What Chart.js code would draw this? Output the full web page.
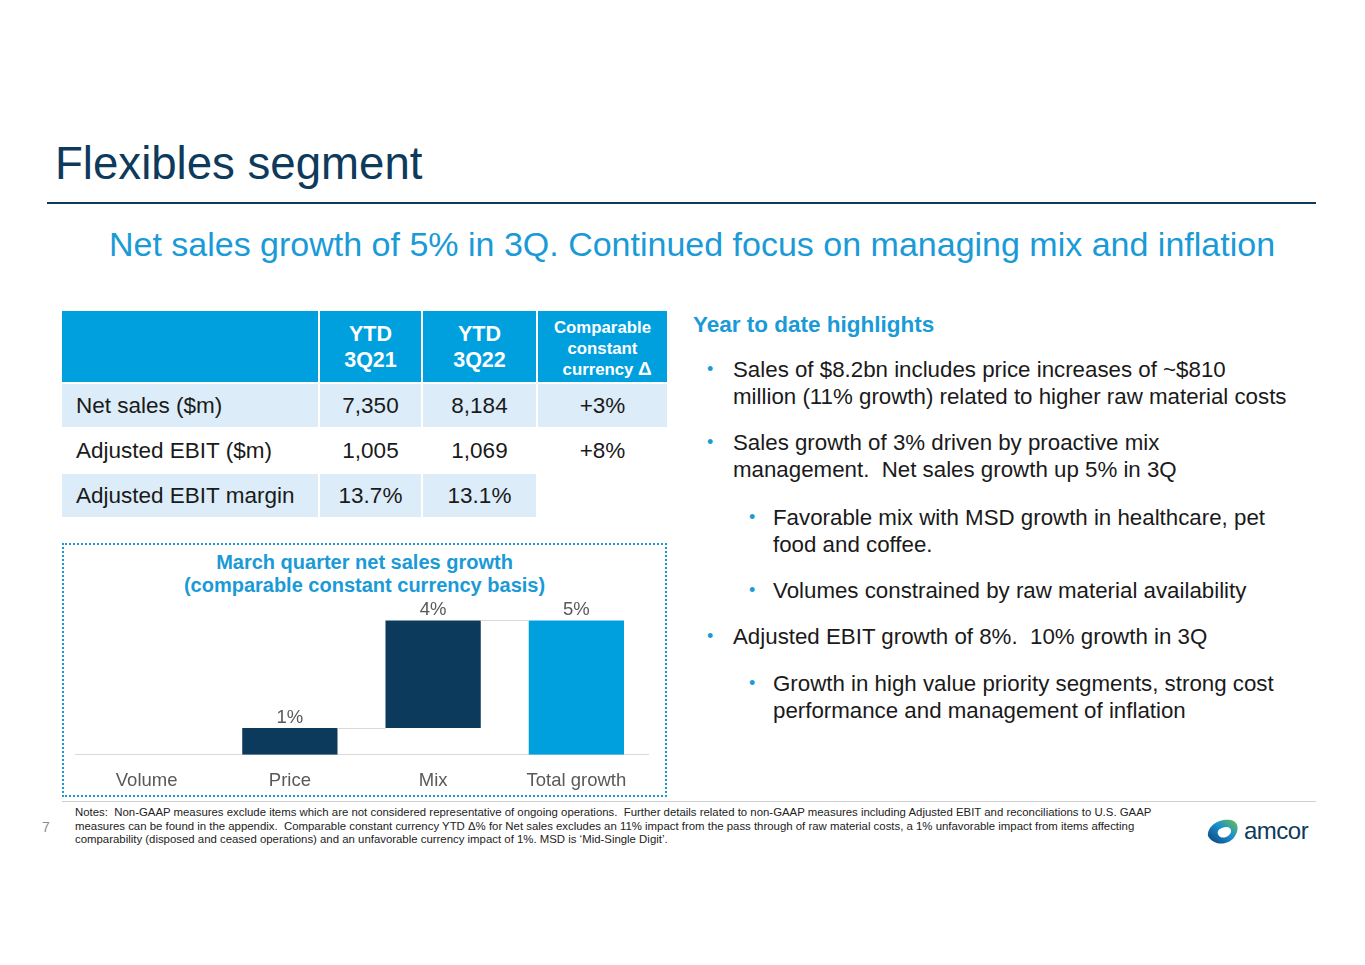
<!DOCTYPE html>
<html lang="en">
<head>
  <meta charset="UTF-8" />
  <title>Flexibles segment</title>
  <script src="https://cdn.jsdelivr.net/npm/chart.js"></script>
  <style>
    html, body { margin: 0; padding: 0; }
    body { width: 1365px; height: 965px; position: relative; background: #fff;
           font-family: Arial, "Liberation Sans", sans-serif; color: #1a1a1a; overflow: hidden; }
    .abs { position: absolute; }
    .title { left: 55px; top: 138px; font-size: 45.6px; color: #0e3a5c; white-space: nowrap; }
    .rule { left: 47px; top: 202px; width: 1269px; height: 2px; background: #0e3a5c; }
    .subtitle { left: 0; width: 1384px; top: 225px; text-align: center; font-size: 34px; color: #1a9ad6; white-space: nowrap; }

    table { position: absolute; left: 62px; top: 311px; border-collapse: separate; border-spacing: 2px 2px; margin: -2px; }
    td { font-size: 22.5px; padding: 0; height: 43px; text-align: center; color: #1a1a1a; }
    td.lbl { text-align: left; padding-left: 14px; }
    tr.head td { background: #00a0df; color: #fff; font-weight: bold; font-size: 21.5px; height: 71px; line-height: 26px; }
    tr.head td.cc { font-size: 16.8px; line-height: 20.5px; padding-top: 6px; height: 65px; }
    tr.blue td.fill { background: #dcedf9; }

    .hl { left: 693px; top: 312px; font-size: 22.5px; font-weight: bold; color: #1a9ad6; }
    .b { font-size: 22.3px; line-height: 27px; white-space: nowrap; }
    .b .dot { position: absolute; color: #1a9ad6; font-size: 18px; }
    .lv1 { left: 733px; }
    .lv1 .dot { left: -26px; }
    .lv2 { left: 773px; }
    .lv2 .dot { left: -24px; }

    .box { left: 62px; top: 543px; width: 601px; height: 250px; border: 2px dotted #1a9ad6; }
    .ctitle { left: 62px; width: 605px; top: 551px; text-align: center; font-size: 20px; font-weight: bold; color: #1a9ad6; line-height: 23px; }
    #wrap { left: 62px; top: 597px; width: 605px; height: 202px; }

    .foot { left: 62px; top: 801px; width: 1254px; height: 1px; background: #cfcfcf; }
    .pg { left: 42px; top: 819px; font-size: 14px; color: #8c8c8c; }
    .notes { left: 75px; top: 806px; font-size: 11.4px; line-height: 13.5px; color: #222; white-space: nowrap; }
    .logo { left: 1205px; top: 814px; }
  </style>
</head>
<body>
  <div class="abs title">Flexibles segment</div>
  <div class="abs rule"></div>
  <div class="abs subtitle">Net sales growth of 5% in 3Q. Continued focus on managing mix and inflation</div>

  <table>
    <tr class="head">
      <td style="width:256px"></td>
      <td style="width:101px">YTD<br>3Q21</td>
      <td style="width:113px">YTD<br>3Q22</td>
      <td class="cc" style="width:129px">Comparable<br>constant<br>&nbsp;&nbsp;currency <span style="font-size:19px">&Delta;</span></td>
    </tr>
    <tr class="blue">
      <td class="lbl fill">Net sales ($m)</td><td class="fill">7,350</td><td class="fill">8,184</td><td class="fill">+3%</td>
    </tr>
    <tr>
      <td class="lbl">Adjusted EBIT ($m)</td><td>1,005</td><td>1,069</td><td>+8%</td>
    </tr>
    <tr class="blue">
      <td class="lbl fill">Adjusted EBIT margin</td><td class="fill">13.7%</td><td class="fill">13.1%</td><td></td>
    </tr>
  </table>

  <div class="abs hl">Year to date highlights</div>
  <div class="abs b lv1" style="top:356px"><span class="dot">&#8226;</span>Sales of $8.2bn includes price increases of ~$810<br>million (11% growth) related to higher raw material costs</div>
  <div class="abs b lv1" style="top:429px"><span class="dot">&#8226;</span>Sales growth of 3% driven by proactive mix<br>management.&nbsp; Net sales growth up 5% in 3Q</div>
  <div class="abs b lv2" style="top:504px"><span class="dot">&#8226;</span>Favorable mix with MSD growth in healthcare, pet<br>food and coffee.</div>
  <div class="abs b lv2" style="top:577px"><span class="dot">&#8226;</span>Volumes constrained by raw material availability</div>
  <div class="abs b lv1" style="top:623px"><span class="dot">&#8226;</span>Adjusted EBIT growth of 8%.&nbsp; 10% growth in 3Q</div>
  <div class="abs b lv2" style="top:670px"><span class="dot">&#8226;</span>Growth in high value priority segments, strong cost<br>performance and management of inflation</div>

  <div class="abs box"></div>
  <div class="abs ctitle">March quarter net sales growth<br>(comparable constant currency basis)</div>
  <div class="abs" id="wrap"><canvas id="chart"></canvas></div>

  <div class="abs foot"></div>
  <div class="abs pg">7</div>
  <div class="abs notes">Notes:&nbsp; Non-GAAP measures exclude items which are not considered representative of ongoing operations.&nbsp; Further details related to non-GAAP measures including Adjusted EBIT and reconciliations to U.S. GAAP<br>measures can be found in the appendix.&nbsp; Comparable constant currency YTD &Delta;% for Net sales excludes an 11% impact from the pass through of raw material costs, a 1% unfavorable impact from items affecting<br>comparability (disposed and ceased operations) and an unfavorable currency impact of 1%. MSD is &lsquo;Mid-Single Digit&rsquo;.</div>
  <svg class="abs logo" width="110" height="36" viewBox="0 0 110 36">
    <defs>
      <linearGradient id="lg" x1="0" y1="1" x2="1" y2="0">
        <stop offset="0" stop-color="#0b3f73"/>
        <stop offset="0.55" stop-color="#1a8fd0"/>
        <stop offset="1" stop-color="#6cc24a"/>
      </linearGradient>
    </defs>
    <path d="M3 22 C2 12 14 4 26 6 C34 8 34 16 30 22 C26 30 10 34 3 22 Z M13 20 C15 26 24 24 26 18 C27 13 21 12 17 14 C14 15 12 17 13 20 Z" fill="url(#lg)" fill-rule="evenodd"/>
    <text x="39" y="25" font-family="Arial, 'Liberation Sans', sans-serif" font-size="24" fill="#0e3a5c" letter-spacing="-0.5">amcor</text>
  </svg>

  <script>
    const categories = ["Volume", "Price", "Mix", "Total growth"];
    const growthPct = [0, 1, 4, 5];
    const isTotal = [false, false, false, true];

    const navy = "#0b3a5c";
    const cyan = "#00a0df";

    // build floating ranges for the waterfall
    let running = 0;
    const ranges = growthPct.map((v, i) => {
      if (isTotal[i]) return [0, v];
      const r = [running, running + v];
      running += v;
      return r;
    });

    const waterfallExtras = {
      id: "waterfallExtras",
      afterDatasetsDraw(chart) {
        const { ctx, scales: { y } } = chart;
        const bars = chart.getDatasetMeta(0).data;
        ctx.save();
        // connector lines between bars
        ctx.strokeStyle = "#d9d9d9";
        ctx.lineWidth = 1;
        for (let i = 1; i < bars.length - 1; i++) {
          const level = ranges[i][1];
          const yy = Math.round(y.getPixelForValue(level)) + 0.5;
          const a = bars[i], b = bars[i + 1];
          ctx.beginPath();
          ctx.moveTo(a.x + a.width / 2, yy);
          ctx.lineTo(b.x - b.width / 2, yy);
          ctx.stroke();
        }
        // value labels
        ctx.fillStyle = "#595959";
        ctx.font = "18.5px Arial, 'Liberation Sans', sans-serif";
        ctx.textAlign = "center";
        ctx.textBaseline = "bottom";
        bars.forEach((bar, i) => {
          if (growthPct[i] === 0) return;
          ctx.fillText(growthPct[i] + "%", bar.x, y.getPixelForValue(ranges[i][1]) - 1);
        });
        ctx.restore();
      }
    };

    new Chart(document.getElementById("chart"), {
      type: "bar",
      data: {
        labels: categories,
        datasets: [{
          data: ranges,
          backgroundColor: isTotal.map(t => t ? cyan : navy),
          borderWidth: 0,
          barPercentage: 0.665,
          categoryPercentage: 1
        }]
      },
      options: {
        responsive: true,
        maintainAspectRatio: false,
        animation: false,
        layout: { padding: { left: 13, right: 19, top: 10, bottom: 0 } },
        plugins: { legend: { display: false }, tooltip: { enabled: false } },
        scales: {
          y: { display: false, min: 0, max: 5.5 },
          x: {
            grid: { display: false },
            border: { color: "#d9d9d9", width: 1 },
            ticks: { color: "#595959", font: { size: 18.5, family: "Arial, 'Liberation Sans', sans-serif" }, padding: 7 }
          }
        }
      },
      plugins: [waterfallExtras]
    });
  </script>
</body>
</html>
